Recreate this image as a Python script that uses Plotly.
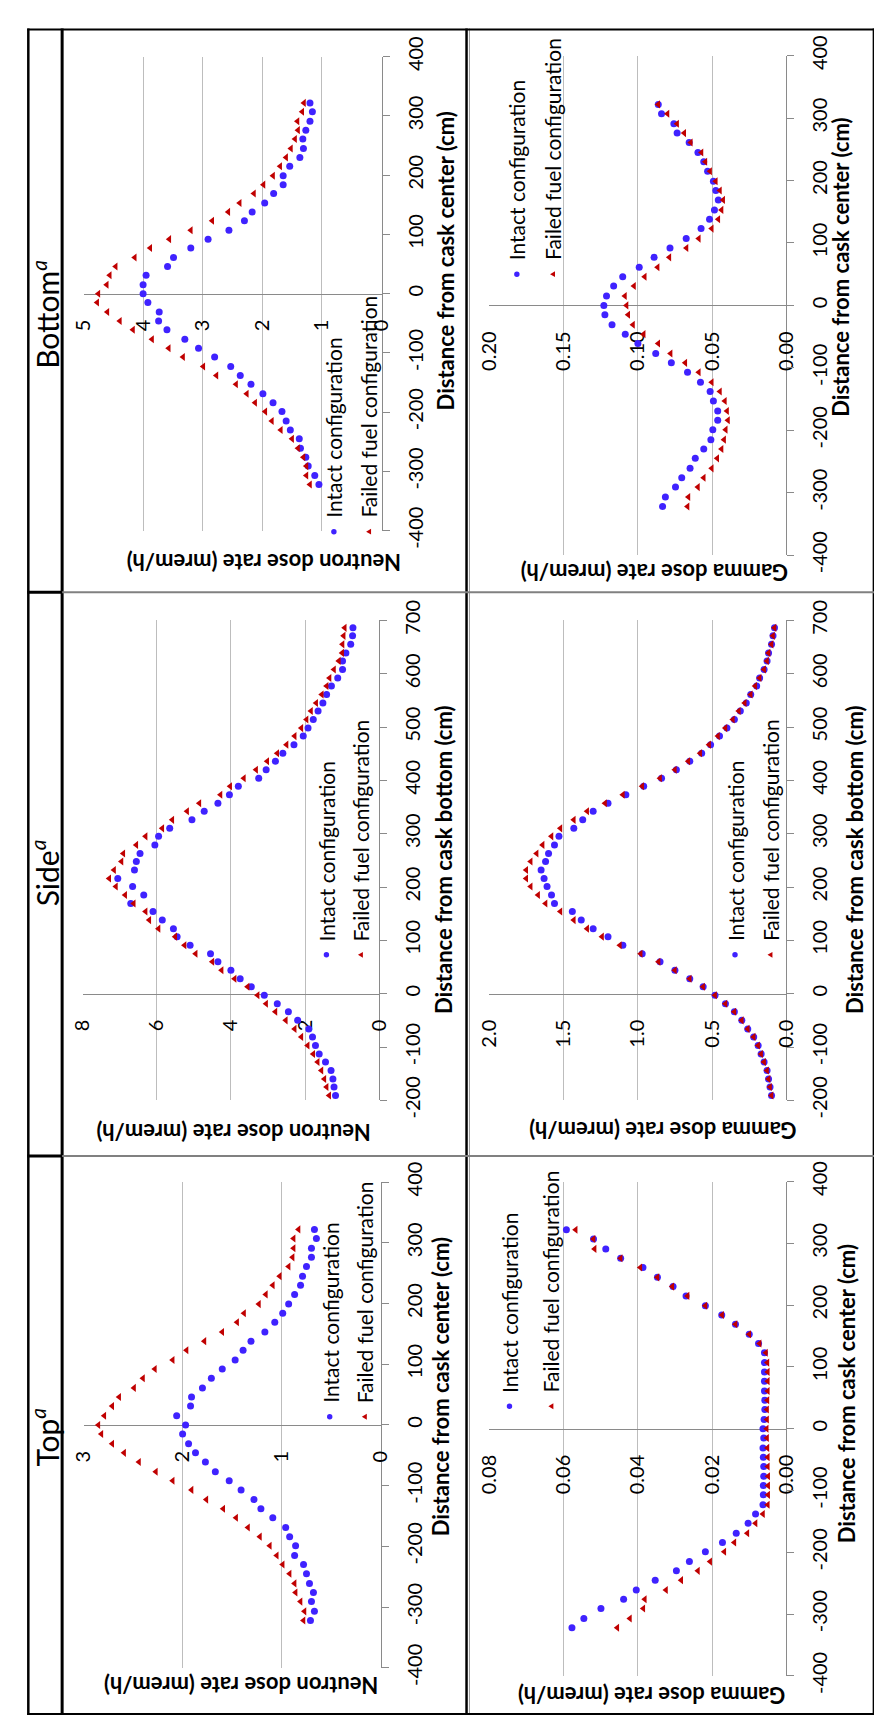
import plotly.graph_objects as go

W, H = 882, 1727

# ---------------- data ----------------
DIST_CENTER = [-322, -307, -291, -276, -261, -245, -230, -215, -199, -184, -169, -153, -138, -123,
               -107, -92, -77, -61, -46, -31, -15, 0, 15, 31, 46, 61, 77, 92, 107, 123, 138, 153,
               169, 184, 199, 215, 230, 245, 261, 276, 291, 307, 322]
DIST_BOTTOM = [-191, -175, -160, -144, -128, -113, -97, -81, -66, -50, -34, -19, -3, 13, 28, 44,
               60, 75, 91, 107, 122, 138, 154, 169, 185, 201, 216, 232, 248, 263, 279, 295, 310,
               326, 342, 357, 373, 389, 404, 420, 436, 451, 467, 483, 498, 514, 530, 545, 561,
               577, 592, 608, 624, 639, 655, 671, 686]

TOP_NEUTRON_INTACT = [0.71, 0.67, 0.70, 0.68, 0.72, 0.75, 0.78, 0.87, 0.86, 0.92, 0.96, 1.09, 1.21,
                      1.28, 1.41, 1.53, 1.67, 1.77, 1.87, 1.94, 2.00, 1.97, 2.06, 1.92, 1.91, 1.80,
                      1.71, 1.60, 1.47, 1.39, 1.31, 1.17, 1.07, 0.99, 0.93, 0.87, 0.81, 0.79, 0.75,
                      0.70, 0.70, 0.65, 0.67]
TOP_NEUTRON_FAILED = [0.78, 0.77, 0.81, 0.86, 0.87, 0.92, 0.99, 1.05, 1.12, 1.22, 1.34, 1.46, 1.59,
                      1.76, 1.91, 2.10, 2.27, 2.44, 2.59, 2.71, 2.82, 2.85, 2.79, 2.71, 2.64, 2.49,
                      2.40, 2.28, 2.10, 1.96, 1.78, 1.60, 1.45, 1.38, 1.23, 1.16, 1.09, 1.02, 0.93,
                      0.89, 0.88, 0.88, 0.83]
TOP_GAMMA_INTACT = [0.0577, 0.0545, 0.0499, 0.0438, 0.0404, 0.0353, 0.0296, 0.0261, 0.0218, 0.0172,
                    0.0135, 0.0103, 0.0083, 0.0063, 0.0062, 0.0062, 0.0061, 0.0061, 0.0062, 0.0063,
                    0.0061, 0.0063, 0.0060, 0.0058, 0.0058, 0.0059, 0.0059, 0.0059, 0.0059, 0.0059,
                    0.0075, 0.0100, 0.0137, 0.0174, 0.0218, 0.0270, 0.0305, 0.0347, 0.0386, 0.0446,
                    0.0486, 0.0519, 0.0592]
TOP_GAMMA_FAILED = [0.0455, 0.0421, 0.0385, 0.0381, 0.0324, 0.0283, 0.0238, 0.0205, 0.0167, 0.0140,
                    0.0105, 0.0083, 0.0063, 0.0050, 0.0049, 0.0049, 0.0049, 0.0050, 0.0050, 0.0051,
                    0.0052, 0.0053, 0.0052, 0.0052, 0.0051, 0.0050, 0.0050, 0.0050, 0.0051, 0.0055,
                    0.0072, 0.0100, 0.0137, 0.0173, 0.0218, 0.0266, 0.0307, 0.0347, 0.0393, 0.0446,
                    0.0516, 0.0519, 0.0567]
SIDE_NEUTRON_INTACT = [1.18, 1.22, 1.25, 1.30, 1.45, 1.62, 1.72, 1.80, 1.90, 2.20, 2.45, 2.75, 3.10,
                       3.45, 3.75, 4.00, 4.35, 4.55, 5.10, 5.45, 5.55, 5.85, 6.10, 6.70, 6.35, 6.65,
                       7.05, 6.60, 6.55, 6.45, 6.05, 5.95, 5.65, 5.05, 4.72, 4.35, 4.04, 3.80, 3.25,
                       3.05, 2.80, 2.60, 2.30, 2.05, 1.92, 1.78, 1.65, 1.52, 1.42, 1.29, 1.12, 0.99,
                       0.99, 0.90, 0.77, 0.72, 0.71]
SIDE_NEUTRON_FAILED = [1.35, 1.42, 1.48, 1.56, 1.66, 1.78, 1.93, 2.10, 2.28, 2.52, 2.80, 3.05, 3.28,
                       3.55, 3.90, 4.25, 4.50, 4.95, 5.25, 5.50, 5.95, 6.20, 6.30, 6.62, 6.85, 7.10,
                       7.28, 7.15, 6.95, 6.90, 6.55, 6.30, 5.85, 5.58, 5.18, 4.85, 4.28, 4.02, 3.65,
                       3.32, 3.02, 2.75, 2.50, 2.28, 2.10, 1.96, 1.84, 1.70, 1.55, 1.42, 1.34, 1.22,
                       1.09, 1.00, 0.99, 0.96, 0.93]
SIDE_GAMMA_INTACT = [0.10, 0.11, 0.12, 0.13, 0.15, 0.17, 0.19, 0.22, 0.26, 0.30, 0.35, 0.41, 0.48,
                     0.56, 0.65, 0.75, 0.85, 0.97, 1.10, 1.20, 1.30, 1.38, 1.44, 1.56, 1.58, 1.61,
                     1.63, 1.65, 1.62, 1.60, 1.56, 1.53, 1.43, 1.37, 1.30, 1.20, 1.08, 0.96, 0.84,
                     0.74, 0.65, 0.57, 0.51, 0.45, 0.40, 0.35, 0.31, 0.27, 0.24, 0.20, 0.18, 0.15,
                     0.13, 0.12, 0.10, 0.09, 0.08]
SIDE_GAMMA_FAILED = [0.10, 0.11, 0.12, 0.13, 0.15, 0.17, 0.19, 0.22, 0.26, 0.30, 0.35, 0.41, 0.48,
                     0.56, 0.65, 0.75, 0.86, 0.98, 1.12, 1.24, 1.34, 1.43, 1.52, 1.62, 1.67, 1.72,
                     1.75, 1.75, 1.72, 1.68, 1.64, 1.58, 1.52, 1.43, 1.34, 1.22, 1.10, 0.97, 0.85,
                     0.75, 0.66, 0.58, 0.52, 0.46, 0.41, 0.36, 0.32, 0.28, 0.24, 0.21, 0.18, 0.15,
                     0.13, 0.12, 0.10, 0.09, 0.08]
BOTTOM_NEUTRON_INTACT = [1.05, 1.12, 1.23, 1.27, 1.36, 1.38, 1.53, 1.60, 1.67, 1.82, 1.99, 2.19,
                         2.37, 2.53, 2.80, 3.07, 3.30, 3.60, 3.74, 3.73, 3.92, 4.00, 4.00, 3.95,
                         3.59, 3.49, 3.20, 2.91, 2.56, 2.30, 2.17, 1.96, 1.81, 1.65, 1.65, 1.54,
                         1.37, 1.31, 1.32, 1.27, 1.20, 1.16, 1.20]
BOTTOM_NEUTRON_FAILED = [1.20, 1.26, 1.26, 1.31, 1.40, 1.50, 1.69, 1.84, 1.95, 2.12, 2.26, 2.44,
                         2.77, 2.99, 3.33, 3.57, 3.85, 4.17, 4.39, 4.60, 4.77, 4.75, 4.61, 4.56,
                         4.46, 4.14, 3.88, 3.56, 3.20, 2.84, 2.57, 2.38, 2.14, 1.98, 1.82, 1.70,
                         1.60, 1.52, 1.45, 1.40, 1.41, 1.33, 1.30]
BOTTOM_GAMMA_INTACT = [0.0833, 0.0814, 0.0746, 0.0704, 0.0648, 0.0613, 0.0556, 0.0508, 0.0495,
                       0.0462, 0.0462, 0.0491, 0.0513, 0.0578, 0.0665, 0.0774, 0.0879, 0.0999,
                       0.1084, 0.1173, 0.1221, 0.1228, 0.1210, 0.1162, 0.1101, 0.0990, 0.0890,
                       0.0783, 0.0674, 0.0574, 0.0517, 0.0484, 0.0458, 0.0475, 0.0491, 0.0530,
                       0.0556, 0.0595, 0.0654, 0.0735, 0.0757, 0.0840, 0.0862]
BOTTOM_GAMMA_FAILED = [0.0665, 0.0659, 0.0595, 0.0556, 0.0502, 0.0465, 0.0436, 0.0419, 0.0408,
                       0.0393, 0.0399, 0.0414, 0.0447, 0.0502, 0.0589, 0.0680, 0.0779, 0.0862,
                       0.0960, 0.1032, 0.1064, 0.1075, 0.1086, 0.1025, 0.0953, 0.0866, 0.0787,
                       0.0672, 0.0589, 0.0502, 0.0458, 0.0436, 0.0425, 0.0447, 0.0475, 0.0513,
                       0.0545, 0.0571, 0.0643, 0.0687, 0.0735, 0.0800, 0.0862]

DIST_TICKS_CENTER = [-400, -300, -200, -100, 0, 100, 200, 300, 400]
DIST_LABELS_CENTER = ["-400", "-300", "-200", "-100", "0", "100", "200", "300", "400"]
DIST_TICKS_BOTTOM = [-200, -100, 0, 100, 200, 300, 400, 500, 600, 700]
DIST_LABELS_BOTTOM = ["-200", "-100", "0", "100", "200", "300", "400", "500", "600", "700"]

TN_TICKS, TN_LABELS = [0, 1, 2, 3], ["0", "1", "2", "3"]
TG_TICKS, TG_LABELS = [0, 0.02, 0.04, 0.06, 0.08], ["0.00", "0.02", "0.04", "0.06", "0.08"]
SN_TICKS, SN_LABELS = [0, 2, 4, 6, 8], ["0", "2", "4", "6", "8"]
SG_TICKS, SG_LABELS = [0, 0.5, 1.0, 1.5, 2.0], ["0.0", "0.5", "1.0", "1.5", "2.0"]
BN_TICKS, BN_LABELS = [0, 1, 2, 3, 4, 5], ["0", "1", "2", "3", "4", "5"]
BG_TICKS, BG_LABELS = [0, 0.05, 0.10, 0.15, 0.20], ["0.00", "0.05", "0.10", "0.15", "0.20"]

ROW_LABELS = ["Bottom", "Side", "Top"]
SERIES_NAMES = ["Intact configuration", "Failed fuel configuration"]
NEUTRON_TITLE = "Neutron dose rate (mrem/h)"
GAMMA_TITLE = "Gamma dose rate (mrem/h)"
CENTER_TITLE = "Distance from cask center (cm)"
BOTTOM_TITLE = "Distance from cask bottom (cm)"

# ---------------- styling / layout helpers ----------------
FONT = "Lato, 'Open Sans', Arial, sans-serif"
BLUE = "#3F22FF"
RED = "#C00000"
GRID = "#BDBDBD"
AXIS = "#8A8A8A"


def px(x):
    return x / W


def py(y):
    return 1 - y / H


panels = [
    dict(dist=DIST_CENTER, intact=BOTTOM_NEUTRON_INTACT, failed=BOTTOM_NEUTRON_FAILED,
         box=(63.3, 370.0, 29.3, 514.0), drange=(-400, 400), xmax=5,
         xt=BN_TICKS, xtt=BN_LABELS, yt=DIST_TICKS_CENTER, ytt=DIST_LABELS_CENTER,
         xtitle=NEUTRON_TITLE, xtitle_pos=(249, 546.7), ytitle=CENTER_TITLE, ytitle_pos=(436, 238),
         leg=((321, 515), (356.7, 515))),
    dict(dist=DIST_CENTER, intact=BOTTOM_GAMMA_INTACT, failed=BOTTOM_GAMMA_FAILED,
         box=(480.7, 786.7, 28.3, 539.0), drange=(-400, 400), xmax=0.20,
         xt=BG_TICKS, xtt=BG_LABELS, yt=DIST_TICKS_CENTER, ytt=DIST_LABELS_CENTER,
         xtitle=GAMMA_TITLE, xtitle_pos=(651.5, 557), ytitle=CENTER_TITLE, ytitle_pos=(843, 245),
         leg=((509.3, 251.7), (546, 251.7))),
    dict(dist=DIST_BOTTOM, intact=SIDE_NEUTRON_INTACT, failed=SIDE_NEUTRON_FAILED,
         box=(62.3, 367.7, 605.7, 1096.5), drange=(-200, 700), xmax=8,
         xt=SN_TICKS, xtt=SN_LABELS, yt=DIST_TICKS_BOTTOM, ytt=DIST_LABELS_BOTTOM,
         xtitle=NEUTRON_TITLE, xtitle_pos=(217.5, 1130), ytitle=BOTTOM_TITLE, ytitle_pos=(434, 850),
         leg=((313.3, 947.7), (348.3, 947.7))),
    dict(dist=DIST_BOTTOM, intact=SIDE_GAMMA_INTACT, failed=SIDE_GAMMA_FAILED,
         box=(480.7, 786.7, 605.7, 1096.5), drange=(-200, 700), xmax=2.0,
         xt=SG_TICKS, xtt=SG_LABELS, yt=DIST_TICKS_BOTTOM, ytt=DIST_LABELS_BOTTOM,
         xtitle=GAMMA_TITLE, xtitle_pos=(659.5, 1128), ytitle=BOTTOM_TITLE, ytitle_pos=(857, 850),
         leg=((733.8, 947.7), (769.8, 947.7))),
    dict(dist=DIST_CENTER, intact=TOP_NEUTRON_INTACT, failed=TOP_NEUTRON_FAILED,
         box=(63.3, 369.3, 1180.0, 1676.7), drange=(-400, 400), xmax=3,
         xt=TN_TICKS, xtt=TN_LABELS, yt=DIST_TICKS_CENTER, ytt=DIST_LABELS_CENTER,
         xtitle=NEUTRON_TITLE, xtitle_pos=(225.5, 1695), ytitle=CENTER_TITLE, ytitle_pos=(431, 1389),
         leg=((316.7, 1420), (352.3, 1420))),
    dict(dist=DIST_CENTER, intact=TOP_GAMMA_INTACT, failed=TOP_GAMMA_FAILED,
         box=(480.7, 786.7, 1179.5, 1685.0), drange=(-400, 400), xmax=0.08,
         xt=TG_TICKS, xtt=TG_LABELS, yt=DIST_TICKS_CENTER, ytt=DIST_LABELS_CENTER,
         xtitle=GAMMA_TITLE, xtitle_pos=(648, 1705), ytitle=CENTER_TITLE, ytitle_pos=(848, 1396),
         leg=((501.7, 1409.3), (544.3, 1409.3))),
]

fig = go.Figure()
axes = {}
annotations = []
shapes = []

for i, p in enumerate(panels, start=1):
    s = "" if i == 1 else str(i)
    L, R, T, B = p["box"]
    dmin, dmax = p["drange"]
    zero_y = T + dmax / (dmax - dmin) * (B - T)
    eps = p["xmax"] * 1e-5

    fig.add_trace(go.Scatter(x=p["intact"], y=p["dist"], mode="markers", name=SERIES_NAMES[0],
                             marker=dict(symbol="circle", size=7, color=BLUE, line=dict(width=0)),
                             xaxis="x" + s, yaxis="y" + s, showlegend=False, cliponaxis=False))
    fig.add_trace(go.Scatter(x=p["failed"], y=p["dist"], mode="markers", name=SERIES_NAMES[1],
                             marker=dict(symbol="triangle-left", size=7, color=RED, line=dict(width=0)),
                             xaxis="x" + s, yaxis="y" + s, showlegend=False, cliponaxis=False))

    axes["xaxis" + s] = dict(
        domain=[px(L), px(R)], range=[p["xmax"] + eps, -eps], anchor="free", position=py(zero_y),
        side="bottom", showline=True, linecolor=AXIS, linewidth=1, showgrid=True, gridcolor=GRID,
        gridwidth=1, zeroline=False, tickmode="array", tickvals=p["xt"], ticktext=p["xtt"],
        tickangle=-90, ticks="", ticklabelstandoff=17, layer="below traces",
        tickfont=dict(family=FONT, size=20, color="#000000"), fixedrange=True)
    axes["yaxis" + s] = dict(
        domain=[py(B), py(T)], range=[dmin - 0.01, dmax + 0.01], anchor="x" + s, side="right",
        showline=True, linecolor=AXIS, linewidth=1, showgrid=False, zeroline=False,
        tickmode="array", tickvals=p["yt"], ticktext=p["ytt"], ticks="outside", ticklen=7,
        tickcolor=AXIS, tickwidth=1, tickangle=-90, ticklabelstandoff=9, layer="below traces",
        tickfont=dict(family=FONT, size=20, color="#000000"), fixedrange=True)

    # axis titles
    tx, ty = p["xtitle_pos"]
    annotations.append(dict(text="<b>%s</b>" % p["xtitle"], x=px(tx), y=py(ty), xref="paper",
                            yref="paper", showarrow=False, textangle=180, xanchor="center",
                            yanchor="middle", font=dict(family=FONT, size=22, color="#000000")))
    tx, ty = p["ytitle_pos"]
    annotations.append(dict(text="<b>%s</b>" % p["ytitle"], x=px(tx), y=py(ty), xref="paper",
                            yref="paper", showarrow=False, textangle=-90, xanchor="center",
                            yanchor="middle", font=dict(family=FONT, size=22, color="#000000")))

    # legend (rotated)
    (cx1, cy1), (cx2, cy2) = p["leg"]
    r = 2.8
    shapes.append(dict(type="circle", xref="paper", yref="paper", x0=px(cx1 - r), x1=px(cx1 + r),
                       y0=py(cy1 + r), y1=py(cy1 - r), fillcolor=BLUE, line=dict(width=0)))
    t = 3.0
    path = "M %f,%f L %f,%f L %f,%f Z" % (px(cx2 - t * 0.85), py(cy2), px(cx2 + t * 0.85), py(cy2 - t),
                                          px(cx2 + t * 0.85), py(cy2 + t))
    shapes.append(dict(type="path", xref="paper", yref="paper", path=path, fillcolor=RED,
                       line=dict(width=0)))
    for (cx, cy), name in zip(p["leg"], SERIES_NAMES):
        annotations.append(dict(text=name, x=px(cx), y=py(cy - 12), xref="paper", yref="paper",
                                showarrow=False, textangle=-90, xanchor="center", yanchor="bottom",
                                font=dict(family=FONT, size=21, color="#000000")))

# row header labels
for label, yc in zip(ROW_LABELS, [293, 864, 1441]):
    annotations.append(dict(text="%s<sup><i>a</i></sup>" % label, x=px(24), y=py(yc), xref="paper",
                            yref="paper", showarrow=False, textangle=-90, xanchor="center",
                            yanchor="middle", font=dict(family=FONT, size=30, color="#000000")))


def hline(y, x0, x1, color, width):
    return dict(type="line", xref="paper", yref="paper", x0=px(x0), x1=px(x1), y0=py(y), y1=py(y),
                line=dict(color=color, width=width))


def vline(x, y0, y1, color, width):
    return dict(type="line", xref="paper", yref="paper", x0=px(x), x1=px(x), y0=py(y0), y1=py(y1),
                line=dict(color=color, width=width))


# table rules
shapes += [
    vline(6.5, 0.5, 1725, "#000000", 2.5),
    vline(41.3, 0.5, 1725, "#000000", 3),
    vline(457.5, 0.5, 1725, "#000000", 2.5),
    vline(460.5, 0.5, 1725, "#9A9A9A", 1),
    vline(876.5, 0.5, 1725, "#000000", 2),
    hline(1.5, 5.5, 877.5, "#000000", 2),
    hline(1724.0, 5.5, 877.5, "#000000", 2),
    hline(577.0, 5.5, 41.3, "#000000", 3),
    hline(577.0, 41.3, 877.5, "#808080", 2),
    hline(1153.5, 5.5, 41.3, "#000000", 3),
    hline(1153.5, 41.3, 877.5, "#808080", 2),
]

fig.update_layout(
    width=W, height=H, margin=dict(l=0, r=0, t=0, b=0, pad=0), autosize=False,
    paper_bgcolor="#FFFFFF", plot_bgcolor="rgba(0,0,0,0)", showlegend=False,
    font=dict(family=FONT, size=20, color="#000000"),
    annotations=annotations, shapes=shapes, **axes)

fig.write_html("out.html")
